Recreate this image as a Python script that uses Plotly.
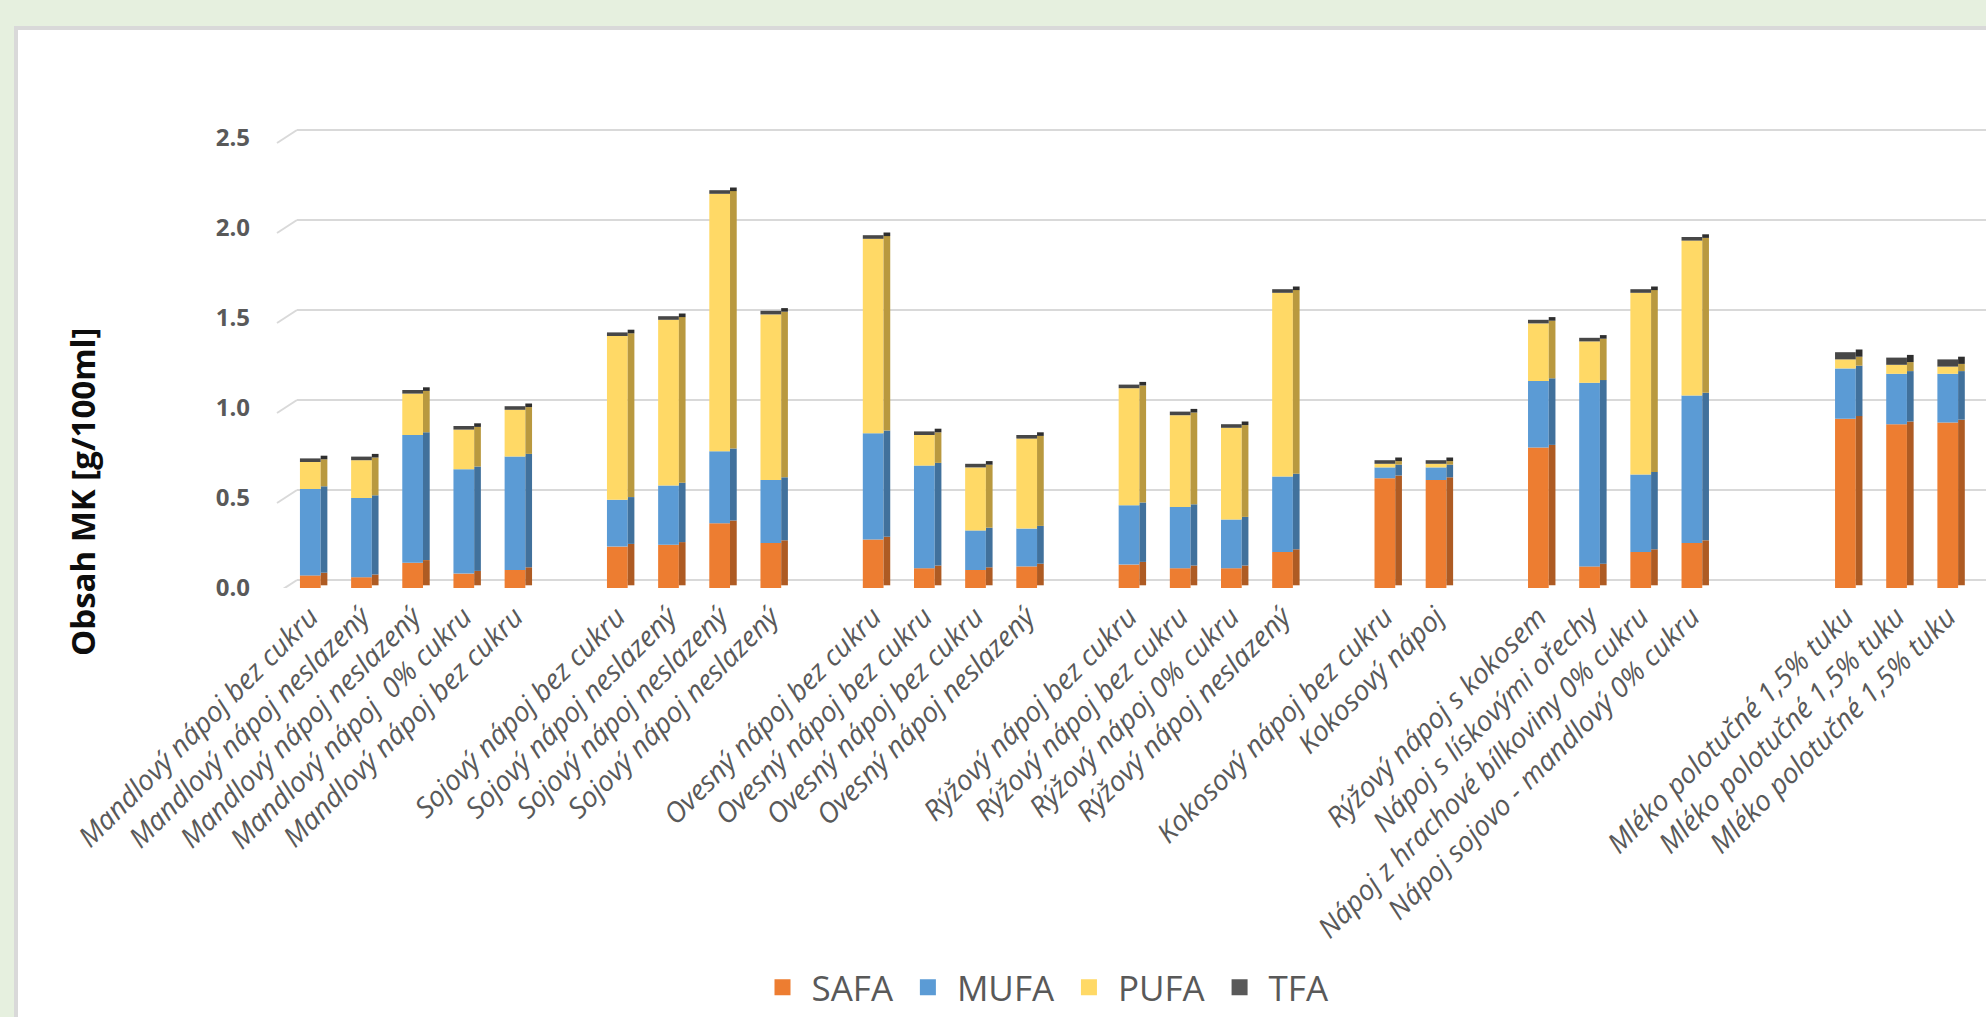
import plotly.graph_objects as go

# Product groups (drinks per category); groups are separated by empty slots
group_names = [
    ["Mandlový nápoj bez cukru", "Mandlový nápoj neslazený", "Mandlový nápoj neslazený",
     "Mandlový nápoj\u00a0 0% cukru", "Mandlový nápoj bez cukru"],
    ["Sojový nápoj bez cukru", "Sojový nápoj neslazený", "Sojový nápoj neslazený",
     "Sojový nápoj neslazený"],
    ["Ovesný nápoj bez cukru", "Ovesný nápoj bez cukru", "Ovesný nápoj bez cukru",
     "Ovesný nápoj neslazený"],
    ["Rýžový nápoj bez cukru", "Rýžový nápoj bez cukru", "Rýžový nápoj 0% cukru",
     "Rýžový nápoj neslazený"],
    ["Kokosový nápoj bez cukru", "Kokosový nápoj"],
    ["Rýžový nápoj s kokosem", "Nápoj s lískovými ořechy",
     "Nápoj z hrachové bílkoviny 0% cukru", "Nápoj sojovo - mandlový 0% cukru"],
    ["Mléko polotučné 1,5% tuku", "Mléko polotučné 1,5% tuku", "Mléko polotučné 1,5% tuku"],
]
gap_before = [0, 1, 1, 1, 1, 1, 2]  # empty slots before each group

# Fatty acid content [g/100 ml]
safa = [0.07, 0.06, 0.14, 0.08, 0.10,
        0.23, 0.24, 0.36, 0.25,
        0.27, 0.11, 0.10, 0.12,
        0.13, 0.11, 0.11, 0.20,
        0.61, 0.60,
        0.78, 0.12, 0.20, 0.25,
        0.94, 0.91, 0.92]
mufa = [0.48, 0.44, 0.71, 0.58, 0.63,
        0.26, 0.33, 0.40, 0.35,
        0.59, 0.57, 0.22, 0.21,
        0.33, 0.34, 0.27, 0.42,
        0.06, 0.07,
        0.37, 1.02, 0.43, 0.82,
        0.28, 0.28, 0.27]
pufa = [0.15, 0.21, 0.23, 0.22, 0.26,
        0.91, 0.92, 1.43, 0.92,
        1.08, 0.17, 0.35, 0.50,
        0.65, 0.51, 0.51, 1.02,
        0.02, 0.02,
        0.32, 0.23, 1.01, 0.86,
        0.05, 0.05, 0.04]
tfa = [0.02, 0.02, 0.02, 0.02, 0.02,
       0.02, 0.02, 0.02, 0.02,
       0.02, 0.02, 0.02, 0.02,
       0.02, 0.02, 0.02, 0.02,
       0.02, 0.02,
       0.02, 0.02, 0.02, 0.02,
       0.04, 0.04, 0.04]

series_names = ["SAFA", "MUFA", "PUFA", "TFA"]
front_colors = ["#ED7D31", "#5B9BD5", "#FFD966", "#474747"]
side_colors = ["#AE5B23", "#41719C", "#B9993F", "#2E2E2E"]
legend_colors = ["#ED7D31", "#5B9BD5", "#FFD966", "#595959"]

y_ticks = [0.0, 0.5, 1.0, 1.5, 2.0, 2.5]

# slot positions on the x axis
labels, slots = [], []
pos = 0
for gap, names in zip(gap_before, group_names):
    pos += gap
    for n in names:
        labels.append(n)
        slots.append(pos)
        pos += 1

# layout geometry (pixels)
W_FIG, H_FIG = 1986, 1017
L, R, T, B = 297, 1986, 127, 588
PW, PH = R - L, B - T
UNIT = 180.0          # pixels per 1 g/100ml
DEPTH = 8.0 / UNIT    # back wall offset


def fx(px):
    return (px - L) / PW


def fy(py):
    return (B - py) / PH


FRONT_W, SIDE_W = 0.405, 0.131
SIDE_SHIFT = 0.015

fig = go.Figure()

series = [safa, mufa, pufa, tfa]
base = [0.0] * len(slots)
for name, vals, fc, sc in zip(series_names, series, front_colors, side_colors):
    fig.add_trace(go.Bar(
        x=slots, y=vals, base=base, name=name, showlegend=False,
        width=FRONT_W, offset=-FRONT_W / 2,
        marker=dict(color=fc, line=dict(width=0)),
    ))
    fig.add_trace(go.Bar(
        x=slots, y=vals, base=[b + SIDE_SHIFT for b in base], showlegend=False,
        width=SIDE_W, offset=FRONT_W / 2,
        marker=dict(color=sc, line=dict(width=0)), hoverinfo="skip",
    ))
    base = [b + v for b, v in zip(base, vals)]

# legend entries
for name, col in zip(series_names, legend_colors):
    fig.add_trace(go.Scatter(
        x=[None], y=[None], mode="markers", name=name,
        marker=dict(symbol="square", size=16, color=col),
    ))

shapes = [
    # white chart panel with light border
    dict(type="rect", xref="paper", yref="paper",
         x0=fx(16), x1=fx(2200), y0=fy(28), y1=fy(1200),
         fillcolor="white", line=dict(color="#D9D9D9", width=4), layer="below"),
]
# short depth lines at the left end of each gridline
for v in y_ticks:
    shapes.append(dict(
        type="line", xref="paper", xsizemode="pixel", xanchor=0, x0=-20, x1=0,
        yref="y2", ysizemode="pixel", yanchor=v, y0=-13, y1=0,
        line=dict(color="#D9D9D9", width=2), layer="below",
    ))

fig.update_layout(
    width=W_FIG, height=H_FIG,
    margin=dict(l=L, r=W_FIG - R, t=T, b=H_FIG - B, pad=0),
    paper_bgcolor="#E6F0DF",
    plot_bgcolor="rgba(0,0,0,0)",
    barmode="overlay",
    font=dict(family="Open Sans", color="#595959"),
    xaxis=dict(
        range=[(L - 310.3) / 51.17, (R - 310.3) / 51.17],
        tickmode="array", tickvals=slots, ticktext=labels,
        tickangle=-45, showgrid=False, zeroline=False, showline=False, ticks="",
        ticklabelstandoff=6,
        tickfont=dict(family="Open Sans", size=28, color="#595959", style="italic"),
    ),
    yaxis=dict(
        range=[0, PH / UNIT], tickmode="array", tickvals=y_ticks,
        ticktext=[f"{v:.1f}" for v in y_ticks],
        showgrid=False, zeroline=False, showline=False, ticks="",
        ticklabelstandoff=46,
        tickfont=dict(family="Open Sans", size=24, color="#595959", weight="bold"),
    ),
    yaxis2=dict(
        overlaying="y", range=[-DEPTH, PH / UNIT - DEPTH],
        tickmode="array", tickvals=y_ticks, showticklabels=False,
        showgrid=True, gridcolor="#D9D9D9", gridwidth=2,
        zeroline=False, showline=False, ticks="",
    ),
    legend=dict(
        orientation="h", x=fx(1044), y=fy(988), xanchor="center", yanchor="middle",
        font=dict(family="Open Sans", size=35, color="#595959"),
        itemwidth=48,
        bgcolor="rgba(0,0,0,0)", itemclick=False, itemdoubleclick=False,
    ),
    shapes=shapes,
    annotations=[dict(
        text="Obsah MK [g/100ml]", textangle=-90, showarrow=False,
        xref="paper", yref="paper", x=fx(82), y=fy(492), xanchor="center", yanchor="middle",
        font=dict(family="Open Sans", size=33, color="#0D0D0D", weight="bold"),
    )],
)

# a dummy trace on the secondary axis so its gridlines render
fig.add_trace(go.Scatter(x=[None], y=[None], yaxis="y2", showlegend=False, hoverinfo="skip"))

fig.write_html("out.html")
